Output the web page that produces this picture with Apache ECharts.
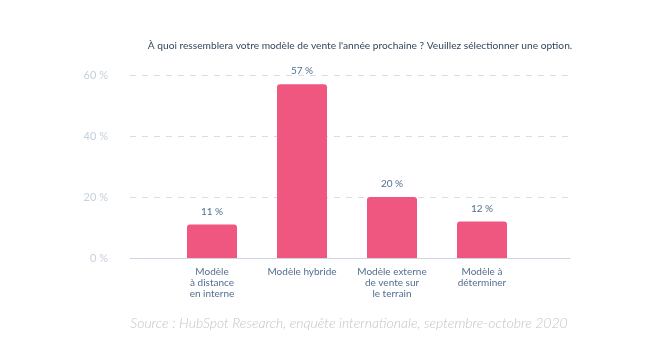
<!DOCTYPE html>
<html><head><meta charset="utf-8">
<script src="https://cdn.jsdelivr.net/npm/echarts@6/dist/echarts.min.js"></script>
<style>html,body{margin:0;padding:0;background:#fff}#c{width:664px;height:358px}</style>
</head><body><div id="c"></div>
<script>
const title = "À quoi ressemblera votre modèle de vente l'année prochaine ? Veuillez sélectionner une option.";
const source = "Source : HubSpot Research, enquête internationale, septembre-octobre 2020";
const categories = ["Modèle\nà distance\nen interne", "Modèle hybride", "Modèle externe\nde vente sur\nle terrain", "Modèle à\ndéterminer"];
const values = [11, 57, 20, 12];
const yTicks = [0, 20, 40, 60];

const chart = echarts.init(document.getElementById('c'));
chart.setOption({
  animation: false,
  backgroundColor: '#fff',
  title: [
    {text: title, left: 355, top: 36, textAlign: 'center',
     textStyle: {fontFamily: 'Lato', fontSize: 10.2, fontWeight: 'normal', color: '#33475b'}},
    {text: source, left: 344, top: 311, textAlign: 'center',
     textStyle: {fontFamily: 'Lato', fontSize: 14, fontStyle: 'italic', fontWeight: 300, color: '#c4c4c4'}}
  ],
  grid: [
    {left: 130, right: 94, top: 75, bottom: 100, containLabel: false},
    {left: 167, width: 360, top: 75, bottom: 100, containLabel: false}
  ],
  xAxis: [
    {gridIndex: 0, type: 'value', min: 0, max: 1, show: true,
     axisLine: {show: true, lineStyle: {color: '#cbd6e2', width: 1}},
     axisTick: {show: false}, axisLabel: {show: false}, splitLine: {show: false}},
    {gridIndex: 1, type: 'category', data: categories,
     axisLine: {show: false}, axisTick: {show: false},
     axisLabel: {interval: 0, margin: 8, fontFamily: 'Lato', fontSize: 10, lineHeight: 11, color: '#516f90'}}
  ],
  yAxis: [
    {gridIndex: 0, type: 'value', min: yTicks[0], max: yTicks[yTicks.length-1], interval: 20,
     axisLine: {show: false}, axisTick: {show: false},
     axisLabel: {margin: 22, fontFamily: 'Lato', fontSize: 11, color: '#c5d0dc', formatter: v => v + ' %'},
     splitLine: {show: true, lineStyle: {type: [6, 6], color: '#d6dde5', width: 1}}},
    {gridIndex: 1, type: 'value', min: yTicks[0], max: yTicks[yTicks.length-1], show: false}
  ],
  series: [{
    type: 'bar', xAxisIndex: 1, yAxisIndex: 1, data: values, barWidth: 50,
    itemStyle: {color: '#ef5680', borderRadius: [3, 3, 0, 0]},
    label: {show: true, position: 'top', distance: 8, formatter: p => p.value + ' %',
      fontFamily: 'Lato', fontSize: 10, color: '#516f90'}
  }]
});
</script></body></html>
